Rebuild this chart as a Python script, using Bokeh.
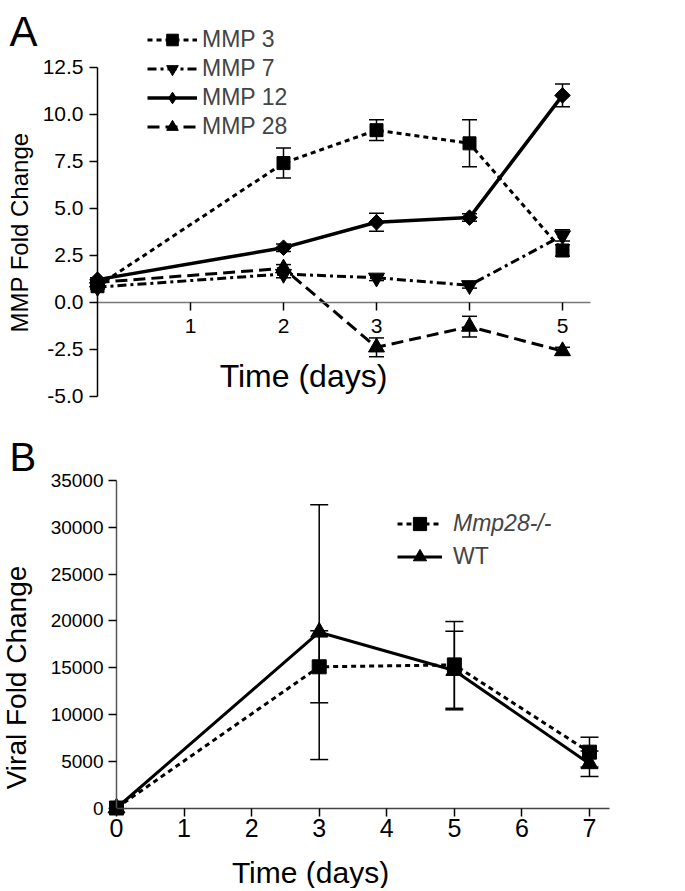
import math
import numpy as np
from bokeh.plotting import figure
from bokeh.layouts import column
from bokeh.models import (ColumnDataSource, Range1d, FixedTicker, Whisker, TeeHead,
                          Legend, LegendItem, Label)
from bokeh.embed import file_html
from bokeh.resources import INLINE

# ---------------- data: panel A ----------------
A_DAYS = [0, 2, 3, 4, 5]
MMP3 = [0.85, 7.4, 9.15, 8.45, 2.75]
MMP3_ERR = [0.1, 0.8, 0.55, 1.25, 0.3]
MMP7 = [0.8, 1.5, 1.3, 0.9, 3.55]
MMP7_ERR = [0.1, 0.2, 0.15, 0.15, 0.3]
MMP12 = [1.2, 2.9, 4.25, 4.5, 11.0]
MMP12_ERR = [0.1, 0.2, 0.48, 0.2, 0.6]
MMP28 = [1.05, 1.8, -2.4, -1.3, -2.6]
MMP28_ERR = [0.1, 0.2, 0.5, 0.55, 0.2]
A_SERIES = ["MMP 3", "MMP 7", "MMP 12", "MMP 28"]
A_YTICKS = [-5.0, -2.5, 0.0, 2.5, 5.0, 7.5, 10.0, 12.5]
A_YTICK_LABELS = ["-5.0", "-2.5", "0.0", "2.5", "5.0", "7.5", "10.0", "12.5"]
A_XTICKS = [1, 2, 3, 4, 5]
A_XTICK_LABELS = ["1", "2", "3", "", "5"]

# ---------------- data: panel B ----------------
B_DAYS = [0, 3, 5, 7]
KO = [0, 15100, 15300, 5970]
KO_ERR = [0, 3850, 4640, 1600]
WT = [0, 18800, 14700, 4730]
WT_ERR = [0, 13620, 4200, 1360]
B_SERIES = ["Mmp28-/-", "WT"]
B_XTICKS = [0, 1, 2, 3, 4, 5, 6, 7]
B_YTICKS = [0, 5000, 10000, 15000, 20000, 25000, 30000, 35000]

# ---------------- layout constants ----------------
W = 669
HA = 430
HB = 458
FONT = "Liberation Sans"

# panel A mapping (pixels inside figure A)
A_X0_PX, A_PX_DAY = 97.0, 93.0
A_Y0_PX, A_PX_UNIT = 301.7, 18.8
ax0 = -A_X0_PX / A_PX_DAY
ax1 = ax0 + W / A_PX_DAY
ay1 = A_Y0_PX / A_PX_UNIT
ay0 = ay1 - HA / A_PX_UNIT

# panel B mapping (pixels inside figure B, which starts at page y = HA)
B_X0_PX, B_PX_DAY = 116.0, 67.57
B_Y0_PX, B_PX_UNIT = 807.5 - HA, 46.76 / 5000
bx0 = -B_X0_PX / B_PX_DAY
bx1 = bx0 + W / B_PX_DAY
by1 = B_Y0_PX / B_PX_UNIT
by0 = by1 - HB / B_PX_UNIT


def apx(px, py):
    """page pixel -> panel A data coords"""
    return (px - A_X0_PX) / A_PX_DAY, (A_Y0_PX - py) / A_PX_UNIT


def bpx(px, py):
    """page pixel -> panel B data coords"""
    return (px - B_X0_PX) / B_PX_DAY, (807.5 - py) / B_PX_UNIT


def make_fig(x0, x1, y0, y1, h):
    p = figure(width=W, height=h, x_range=Range1d(x0, x1), y_range=Range1d(y0, y1),
               output_backend="svg", toolbar_location=None, title=None,
               min_border_left=0, min_border_right=0, min_border_top=0, min_border_bottom=0)
    p.outline_line_color = None
    p.xgrid.visible = False
    p.ygrid.visible = False
    for ax in (p.xaxis[0], p.yaxis[0]):
        ax.fixed_location = 0
        ax.major_tick_in = 0
        ax.major_tick_out = 8
        ax.major_tick_line_color = "black"
        ax.major_tick_line_width = 1.5
        ax.minor_tick_line_color = None
        ax.axis_line_width = 1.5
        ax.major_label_text_color = "black"
        ax.major_label_text_font = FONT
    return p


def whiskers(p, xs, ys, errs, head):
    xx = [x for x, e in zip(xs, errs) if e > 0]
    up = [y + e for y, e in zip(ys, errs) if e > 0]
    lo = [y - e for y, e in zip(ys, errs) if e > 0]
    src = ColumnDataSource(dict(x=xx, upper=up, lower=lo))
    w = Whisker(source=src, base="x", upper="upper", lower="lower",
                line_color="black", line_width=1.5,
                upper_head=TeeHead(size=head, line_color="black", line_width=1.5),
                lower_head=TeeHead(size=head, line_color="black", line_width=1.5))
    p.add_layout(w)


def label(p, conv, px, py, text, size, **kw):
    x, y = conv(px, py)
    opts = dict(text_font=FONT, text_font_size=size, text_color="black",
                text_align="center", text_baseline="middle")
    opts.update(kw)
    p.add_layout(Label(x=x, y=y, text=text, **opts))


# ================= Panel A =================
pa = make_fig(ax0, ax1, ay0, ay1, HA)
pa.yaxis.bounds = (-5, 12.5)
pa.xaxis.bounds = (0, 5.3)
pa.yaxis.axis_line_color = "black"
pa.xaxis.axis_line_color = "#777777"
pa.yaxis.ticker = FixedTicker(ticks=A_YTICKS)
pa.yaxis.major_label_overrides = dict(zip(A_YTICKS, A_YTICK_LABELS))
pa.xaxis.ticker = FixedTicker(ticks=A_XTICKS)
pa.xaxis.major_label_overrides = dict(zip(A_XTICKS, A_XTICK_LABELS))
pa.yaxis.major_label_text_font_size = "21px"
pa.yaxis.major_label_standoff = 6
pa.xaxis.major_label_text_font_size = "21px"
pa.xaxis.major_label_standoff = 9

for vals, errs in ((MMP3, MMP3_ERR), (MMP7, MMP7_ERR), (MMP12, MMP12_ERR), (MMP28, MMP28_ERR)):
    whiskers(pa, A_DAYS, vals, errs, 15)

l3 = pa.line(A_DAYS, MMP3, line_color="black", line_width=3, line_dash="5 4")
s3 = pa.scatter(A_DAYS, MMP3, marker="square", size=13, color="black")
l7 = pa.line(A_DAYS, MMP7, line_color="black", line_width=3, line_dash="9 4 3 4")
s7 = pa.scatter(A_DAYS, MMP7, marker="inverted_triangle", size=16, color="black")
l12 = pa.line(A_DAYS, MMP12, line_color="black", line_width=3.5)
s12 = pa.scatter(A_DAYS, MMP12, marker="square", size=11, angle=math.pi / 4, color="black")
# legend-only diamond swatch (NaN position, draws nothing in the plot area)
d12 = pa.scatter(np.array([np.nan]), np.array([np.nan]), marker="diamond", size=18, color="black")
l28 = pa.line(A_DAYS, MMP28, line_color="black", line_width=3, line_dash="12 6")
s28 = pa.scatter(A_DAYS, MMP28, marker="triangle", size=16, color="black")

legA = Legend(items=[LegendItem(label=A_SERIES[0], renderers=[l3, s3]),
                     LegendItem(label=A_SERIES[1], renderers=[l7, s7]),
                     LegendItem(label=A_SERIES[2], renderers=[l12, d12]),
                     LegendItem(label=A_SERIES[3], renderers=[l28, s28])],
              location=(147, HA - 141), orientation="vertical",
              glyph_width=50, glyph_height=29, label_height=29, spacing=0,
              padding=0, margin=0, label_standoff=5,
              label_text_font=FONT, label_text_font_size="23px",
              border_line_color=None, background_fill_alpha=0)
pa.add_layout(legA)

label(pa, apx, 9, 31, "A", "42px", text_align="left")
label(pa, apx, 19, 232, "MMP Fold Change", "24px", angle=math.pi / 2)
label(pa, apx, 303, 375, "Time (days)", "32px")

# ================= Panel B =================
pb = make_fig(bx0, bx1, by0, by1, HB)
pb.yaxis.bounds = (0, 35000)
pb.xaxis.bounds = (0, 7.29)
pb.xaxis.axis_line_color = "#444444"
pb.yaxis.axis_line_color = "#555555"
pb.yaxis.ticker = FixedTicker(ticks=B_YTICKS)
pb.xaxis.ticker = FixedTicker(ticks=B_XTICKS)
pb.yaxis.major_label_text_font_size = "19px"
pb.yaxis.major_label_standoff = 5
pb.xaxis.major_label_text_font_size = "25px"
pb.xaxis.major_label_standoff = 3

whiskers(pb, B_DAYS, WT, WT_ERR, 18)
whiskers(pb, B_DAYS, KO, KO_ERR, 18)

lw = pb.line(B_DAYS, WT, line_color="black", line_width=3)
sw = pb.scatter(B_DAYS, WT, marker="triangle", size=17, color="black")
lk = pb.line(B_DAYS, KO, line_color="black", line_width=3, line_dash="5 4")
sk = pb.scatter(B_DAYS, KO, marker="square", size=14, color="black")

common = dict(orientation="vertical", glyph_width=45, glyph_height=33, label_height=33,
              spacing=0, padding=0, margin=0, label_standoff=11,
              label_text_font=FONT, label_text_font_size="23px",
              border_line_color=None, background_fill_alpha=0)
legB1 = Legend(items=[LegendItem(label=B_SERIES[0], renderers=[lk, sk])],
               location=(397, HB - 110), label_text_font_style="italic", **common)
legB2 = Legend(items=[LegendItem(label=B_SERIES[1], renderers=[lw, sw])],
               location=(397, HB - 143), **common)
pb.add_layout(legB1)
pb.add_layout(legB2)

label(pb, bpx, 9, 456, "B", "40px", text_align="left")
label(pb, bpx, 16, 677, "Viral Fold Change", "28px", angle=math.pi / 2)
label(pb, bpx, 310, 872, "Time (days)", "30px")

layout = column(pa, pb, spacing=0)
open("out.html", "w").write(file_html(layout, INLINE))
